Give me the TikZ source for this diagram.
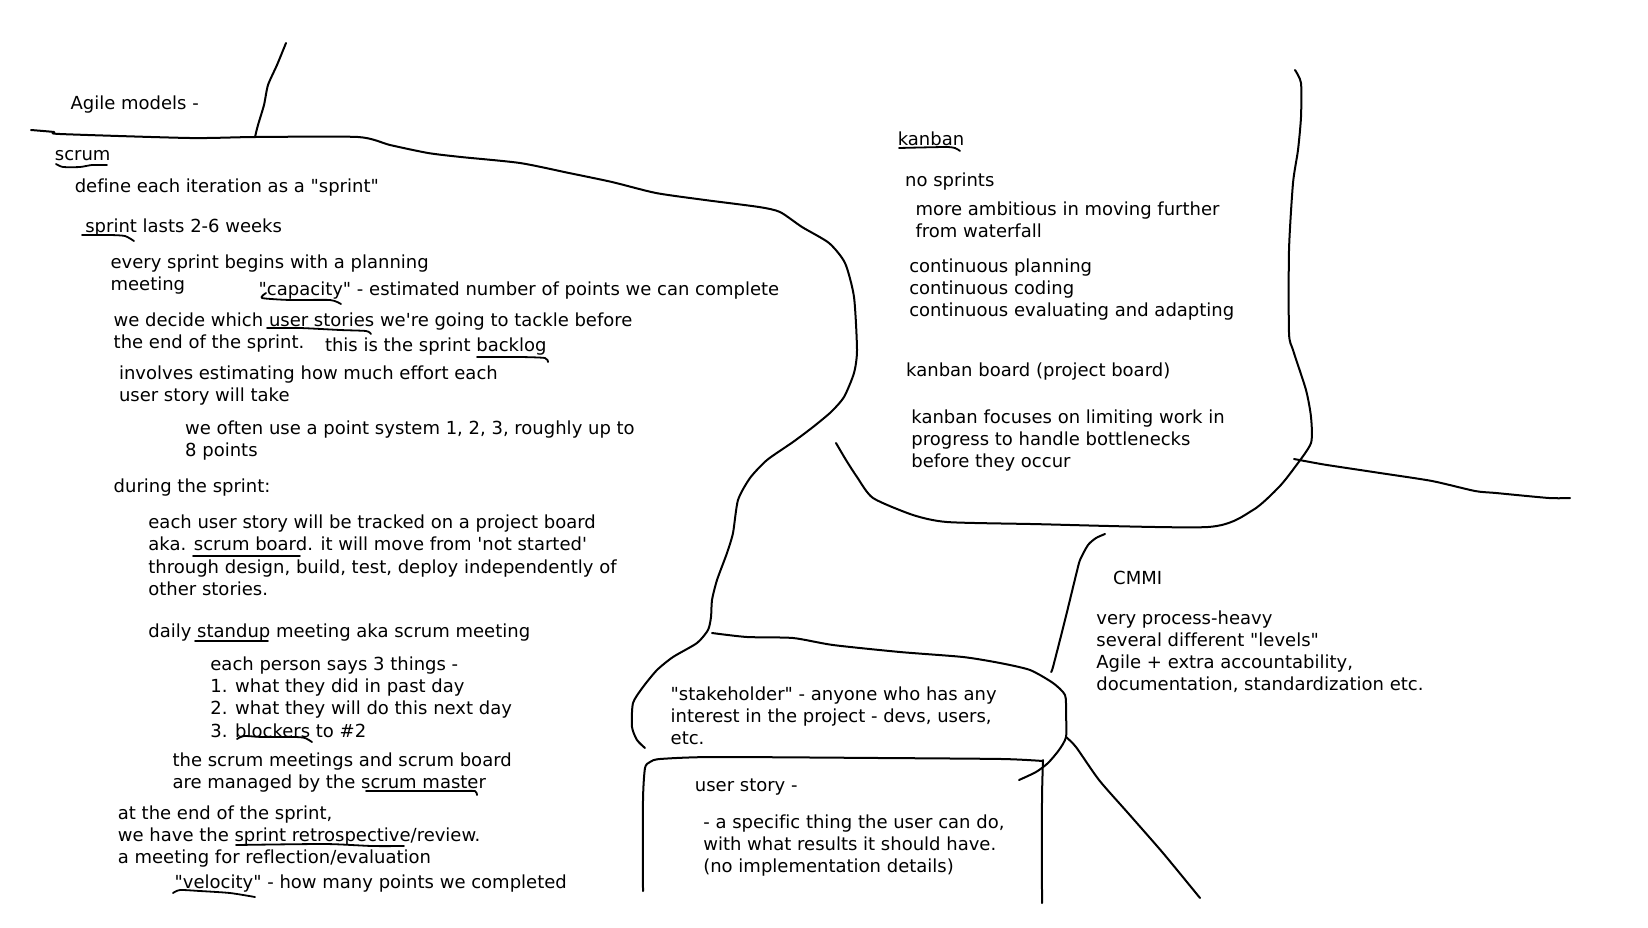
\documentclass[tikz,border=0pt]{standalone}
\usepackage{fontspec}
\newfontfamily\hand{DejaVu Sans}[Ligatures=NoCommon]
\begin{document}
\begin{tikzpicture}[x=1pt,y=-1pt,
  txt/.style={anchor=base west,inner sep=0pt,align=left,font=\hand\fontsize{18}{22.1}\selectfont},
  stroke/.style={line width=2pt,line cap=round,line join=round},
  uline/.style={line width=1.8pt,line cap=round,line join=round}]
\useasboundingbox[fill=white] (0,0) rectangle (1648,927);
% multi-line nodes are placed at the baseline of their LAST line
% ---------- left column ----------
\node[txt] (agile) at (70.4,109.5) {Agile models -};
\node[txt] (scrum) at (54.7,160) {scrum};
\node[txt] (define) at (74.6,192.5) {define each iteration as a "sprint"};
\node[txt] (lasts) at (85.1,232.5) {sprint lasts 2-6 weeks};
\node[txt] (every) at (110.4,290.3) {every sprint begins with a planning\\meeting};
\node[txt] (capacity) at (258.5,295.5) {"capacity" - estimated number of points we can complete};
\node[txt] (decide) at (113.5,348.1) {we decide which user stories we're going to tackle before\\the end of the sprint.};
\node[txt] (backlog) at (324.8,351.2) {this is the sprint backlog};
\node[txt] (involves) at (118.8,401.7) {involves estimating how much effort each\\user story will take};
\node[txt] (points) at (185,456.4) {we often use a point system 1, 2, 3, roughly up to\\8 points};
\node[txt] (during) at (113.5,492) {during the sprint:};
\node[txt] (tracked) at (148.2,595.1) {each user story will be tracked on a project board\\aka. scrum board. it will move from 'not started'\\through design, build, test, deploy independently of\\other stories.};
\node[txt] (standup) at (148.2,637) {daily standup meeting aka scrum meeting};
\node[txt] (person) at (210.2,737) {each person says 3 things -\\1. what they did in past day\\2. what they will do this next day\\3. blockers to \#2};
\node[txt] (master) at (172.4,788.5) {the scrum meetings and scrum board\\are managed by the scrum master};
\node[txt] (retro) at (117.7,863.2) {at the end of the sprint,\\we have the sprint retrospective/review.\\a meeting for reflection/evaluation};
\node[txt] (velocity) at (174.5,888.3) {"velocity" - how many points we completed};
% ---------- kanban ----------
\node[txt] (kanban) at (897.6,145.2) {kanban};
\node[txt] (nosprints) at (905,186.2) {no sprints};
\node[txt] (ambitious) at (915.4,237.7) {more ambitious in moving further\\from waterfall};
\node[txt] (continuous) at (909.1,316.6) {continuous planning\\continuous coding\\continuous evaluating and adapting};
\node[txt] (kboard) at (906,376.5) {kanban board (project board)};
\node[txt] (focus) at (911.2,467.9) {kanban focuses on limiting work in\\progress to handle bottlenecks\\before they occur};
% ---------- CMMI ----------
\node[txt] (cmmi) at (1113,584.6) {CMMI};
\node[txt] (heavy) at (1096.2,690.8) {very process-heavy\\several different "levels"\\Agile + extra accountability,\\documentation, standardization etc.};
% ---------- stakeholder / user story ----------
\node[txt] (stake) at (670.5,744.4) {"stakeholder" - anyone who has any\\interest in the project - devs, users,\\etc.};
\node[txt] (ustory) at (694.7,791.6) {user story -};
\node[txt] (specific) at (703.1,872.6) {- a specific thing the user can do,\\with what results it should have.\\(no implementation details)};
% ---------- strokes ----------
\draw[stroke] plot[smooth,tension=0.4] coordinates {(286,43) (277,65) (268,85) (264,105) (258,125) (255,137)};
\draw[stroke] plot[smooth,tension=0.4] coordinates {(31,130) (54,132) (60,134) (190,138) (255,137) (358,137) (390,145) (428,153) (461,157) (520,163) (569,173) (612,182) (656,193) (705,200) (759,207) (780,212) (802,227) (829,243) (845,263) (854,297) (857,350) (854,373) (844,397) (831,412) (813,427) (793,442) (767,460) (750,478) (738,500) (733,533) (727,553) (717,580) (712,600) (711,617) (708,630) (697,643) (673,657) (657,670) (643,687) (633,703) (632,727) (637,740) (645,748)};
\draw[stroke] plot[smooth,tension=0.4] coordinates {(836,443) (846,460) (857,477) (873,498) (913,515) (947,522) (1031,524) (1208,527) (1253,510) (1279,487) (1295,467) (1311,443) (1311,417) (1306,390) (1293,350) (1289,333) (1289,250) (1293,183) (1298,150) (1301,117) (1301,83) (1295,70)};
\draw[stroke] plot[smooth,tension=0.4] coordinates {(1294,459) (1310,462) (1327,465) (1380,473) (1432,481) (1475,491) (1496,493) (1549,498) (1570,498)};
\draw[stroke] plot[smooth,tension=0.4] coordinates {(1105,534) (1096,538) (1088,545) (1080,560) (1076,575) (1065,620) (1053,667) (1051,672)};
\draw[stroke] plot[smooth,tension=0.4] coordinates {(712,633) (747,637) (793,638) (833,645) (900,652) (963,657) (1000,663) (1030,670) (1053,683) (1065,695) (1066,713) (1066,737) (1059,750) (1048,763) (1036,772) (1019,780)};
\draw[stroke] plot[smooth,tension=0.4] coordinates {(1066,737) (1076,747) (1099,780) (1128,813) (1163,853) (1200,898)};
\draw[stroke] plot[smooth,tension=0.4] coordinates {(643,891) (643,800) (645,768) (650,762) (660,759) (713,757) (880,758) (1002,759) (1043,761)};
\draw[stroke] plot[smooth,tension=0.4] coordinates {(1043,760) (1042,800) (1042,903)};
% ---------- underlines ----------
\draw[uline] plot[smooth,tension=0.4] coordinates {(56,164) (63,167) (80,167) (92,165) (107,165)};
\draw[uline] plot[smooth,tension=0.4] coordinates {(82,235) (110,235) (125,236) (134,241)};
\draw[uline] plot[smooth,tension=0.4] coordinates {(266,293) (262,298) (290,300) (330,300) (341,304)};
\draw[uline] plot[smooth,tension=0.4] coordinates {(267,328) (300,328) (340,330) (366,331) (371,334)};
\draw[uline] plot[smooth,tension=0.4] coordinates {(477,357) (520,357) (545,358) (548,362)};
\draw[uline] (193,556) -- (300,556);
\draw[uline] (195,641) -- (268,641);
\draw[uline] plot[smooth,tension=0.4] coordinates {(237,739) (244,736) (262,737) (295,737) (305,738) (312,742)};
\draw[uline] plot[smooth,tension=0.4] coordinates {(366,791) (460,791) (475,791) (477,795)};
\draw[uline] plot[smooth,tension=0.4] coordinates {(236,845) (325,844) (372,846) (404,846)};
\draw[uline] plot[smooth,tension=0.4] coordinates {(173,893) (180,890) (200,891) (230,893) (255,897)};
\draw[uline] plot[smooth,tension=0.4] coordinates {(899,148) (945,147) (955,148) (960,151)};
\end{tikzpicture}
\end{document}
